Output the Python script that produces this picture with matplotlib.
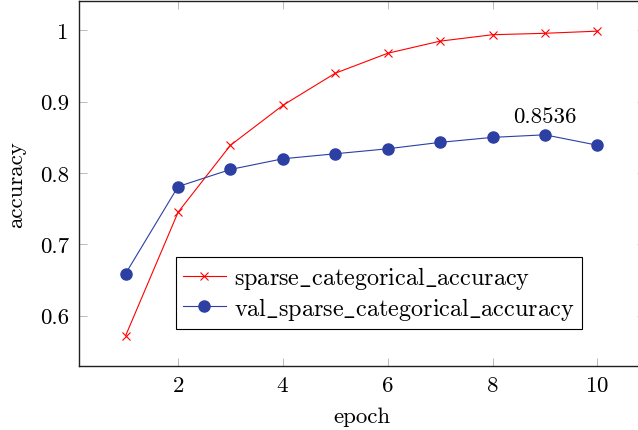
import matplotlib
matplotlib.use('Agg')
import matplotlib.pyplot as plt

plt.rcParams['font.family'] = ['cmr10', 'DejaVu Serif']
plt.rcParams['mathtext.fontset'] = 'cm'
plt.rcParams['axes.formatter.use_mathtext'] = True

epochs = [1, 2, 3, 4, 5, 6, 7, 8, 9, 10]
acc = [0.572, 0.745, 0.839, 0.895, 0.940, 0.968, 0.985, 0.994, 0.996, 0.999]
val_acc = [0.659, 0.781, 0.805, 0.820, 0.827, 0.834, 0.843, 0.850, 0.8536, 0.839]
best_label = '0.8536'
fs = 16.5

fig = plt.figure(figsize=(6.38, 4.31), dpi=100)
ax = fig.add_axes([78.5 / 638, 64 / 431, 566 / 638, 365 / 431])

ax.plot(epochs, acc, color='#ff0000', marker='x', markersize=5.5,
        markeredgewidth=0.8, linewidth=0.8,
        label=r'$\mathrm{sparse\_categorical\_accuracy}$')
ax.plot(epochs, val_acc, color='#2c3fa3', marker='o', markersize=8,
        linewidth=0.8, label=r'$\mathrm{val\_sparse\_categorical\_accuracy}$')

best = val_acc.index(max(val_acc))
ax.annotate(best_label, (epochs[best], val_acc[best]), xytext=(0, 6),
            textcoords='offset points', ha='center', va='bottom', fontsize=fs)

ax.set_xlim(0.1, 10.9)
ax.set_ylim(0.5293, 1.0413)
ax.set_xticks([2, 4, 6, 8, 10])
ax.set_yticks([0.6, 0.7, 0.8, 0.9, 1.0])
ax.set_yticklabels(['0.6', '0.7', '0.8', '0.9', '1'])
ax.tick_params(direction='in', length=6, width=0.6, color='#b0b0b0',
               labelsize=fs, pad=7, top=True, right=True)
for s in ax.spines.values():
    s.set_linewidth(1.0)
    s.set_color('#202020')

ax.set_xlabel('epoch', fontsize=fs, labelpad=8)
ax.set_ylabel('accuracy', fontsize=fs, labelpad=10)

leg = ax.legend(loc='lower left', bbox_to_anchor=(97.5 / 566, 37 / 365),
                fontsize=17.4, fancybox=False, edgecolor='black',
                framealpha=1, borderpad=0.3, handlelength=1.75,
                handletextpad=0.35, labelspacing=0.15, borderaxespad=0)
leg.get_frame().set_linewidth(0.8)

fig.savefig('out.png', dpi=100)
